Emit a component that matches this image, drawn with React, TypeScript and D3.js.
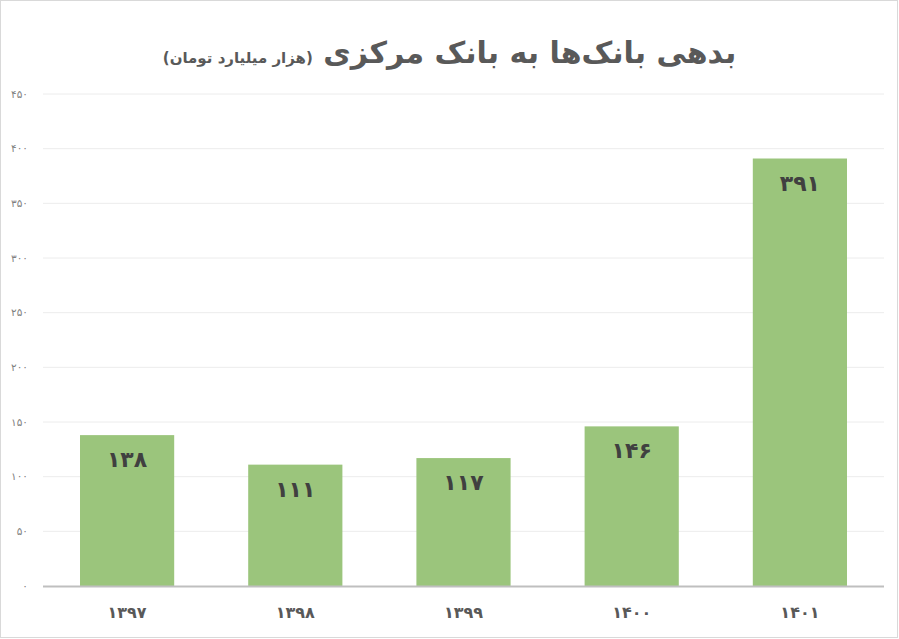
import { useEffect, useRef } from 'react';
import * as d3 from 'd3';

const years = ['1397', '1398', '1399', '1400', '1401'];
const debts = [138, 111, 117, 146, 391];
const yTicks = [0, 50, 100, 150, 200, 250, 300, 350, 400, 450];

const titleMain = 'بدهی بانک‌ها به بانک مرکزی';
const titleUnit = '(هزار میلیارد تومان)';

const faDigits = '۰۱۲۳۴۵۶۷۸۹';
const toFa = (v: string | number) => String(v).replace(/[0-9]/g, (c) => faDigits[+c]);

const W = 899;
const H = 639;

export default function App() {
  const svgRef = useRef<SVGSVGElement>(null);

  useEffect(() => {
    if (!svgRef.current) return;
    document.body.style.margin = '0';

    const svg = d3.select(svgRef.current);
    svg.selectAll('*').remove();

    const margin = { top: 94, right: 15, bottom: 53, left: 43 };
    const width = W - margin.left - margin.right;
    const height = H - margin.top - margin.bottom;

    // chart border
    svg.append('rect')
      .attr('x', 0.5).attr('y', 0.5)
      .attr('width', W - 2).attr('height', H - 2)
      .attr('fill', '#fff')
      .attr('stroke', '#d9d9d9');

    // title
    const title = svg.append('text')
      .attr('x', W / 2)
      .attr('y', 63)
      .attr('text-anchor', 'middle')
      .attr('direction', 'rtl')
      .style('font-family', '"DejaVu Sans", sans-serif')
      .style('font-weight', 'bold')
      .style('fill', '#595959');
    title.append('tspan').style('font-size', '30px').text(titleMain + ' ');
    title.append('tspan').style('font-size', '15px').text(titleUnit);

    const g = svg.append('g').attr('transform', `translate(${margin.left},${margin.top})`);

    const x = d3.scaleBand().domain(years).range([0, width]).paddingInner(0.44).paddingOuter(0.22);
    const y = d3.scaleLinear().domain([0, 450]).range([height, 0]);

    // gridlines
    g.selectAll('.grid')
      .data(yTicks.filter((t) => t > 0))
      .enter()
      .append('line')
      .attr('x1', 0).attr('x2', width)
      .attr('y1', (d) => y(d)).attr('y2', (d) => y(d))
      .attr('stroke', '#ececec');

    // y tick labels
    g.selectAll('.ytick')
      .data(yTicks)
      .enter()
      .append('text')
      .attr('x', -15)
      .attr('y', (d) => y(d))
      .attr('dy', '0.35em')
      .attr('text-anchor', 'end')
      .style('font-family', '"DejaVu Sans", sans-serif')
      .style('font-size', '10.5px')
      .style('fill', '#7f7f7f')
      .text((d) => toFa(d));

    // bars
    g.selectAll('.bar')
      .data(debts)
      .enter()
      .append('rect')
      .attr('x', (_, i) => x(years[i]) || 0)
      .attr('y', (d) => y(d))
      .attr('width', x.bandwidth())
      .attr('height', (d) => height - y(d))
      .attr('fill', '#9bc57c');

    // value labels
    g.selectAll('.val')
      .data(debts)
      .enter()
      .append('text')
      .attr('x', (_, i) => (x(years[i]) || 0) + x.bandwidth() / 2)
      .attr('y', (d) => y(d) + 32)
      .attr('text-anchor', 'middle')
      .style('font-family', '"DejaVu Sans", sans-serif')
      .style('font-weight', 'bold')
      .style('font-size', '22px')
      .style('fill', '#404040')
      .text((d) => toFa(d));

    // baseline
    g.append('line')
      .attr('x1', 0).attr('x2', width)
      .attr('y1', height + 0.5).attr('y2', height + 0.5)
      .attr('stroke', '#bfbfbf')
      .attr('stroke-width', 2);

    // x labels
    g.selectAll('.xlab')
      .data(years)
      .enter()
      .append('text')
      .attr('x', (d) => (x(d) || 0) + x.bandwidth() / 2)
      .attr('y', height + 32)
      .attr('text-anchor', 'middle')
      .style('font-family', '"DejaVu Sans", sans-serif')
      .style('font-weight', 'bold')
      .style('font-size', '16px')
      .style('fill', '#595959')
      .text((d) => toFa(d));
  }, []);

  return (
    <div style={{ position: 'absolute', left: 0, top: 0 }}>
      <svg ref={svgRef} width={W} height={H} style={{ display: 'block' }} />
    </div>
  );
}
